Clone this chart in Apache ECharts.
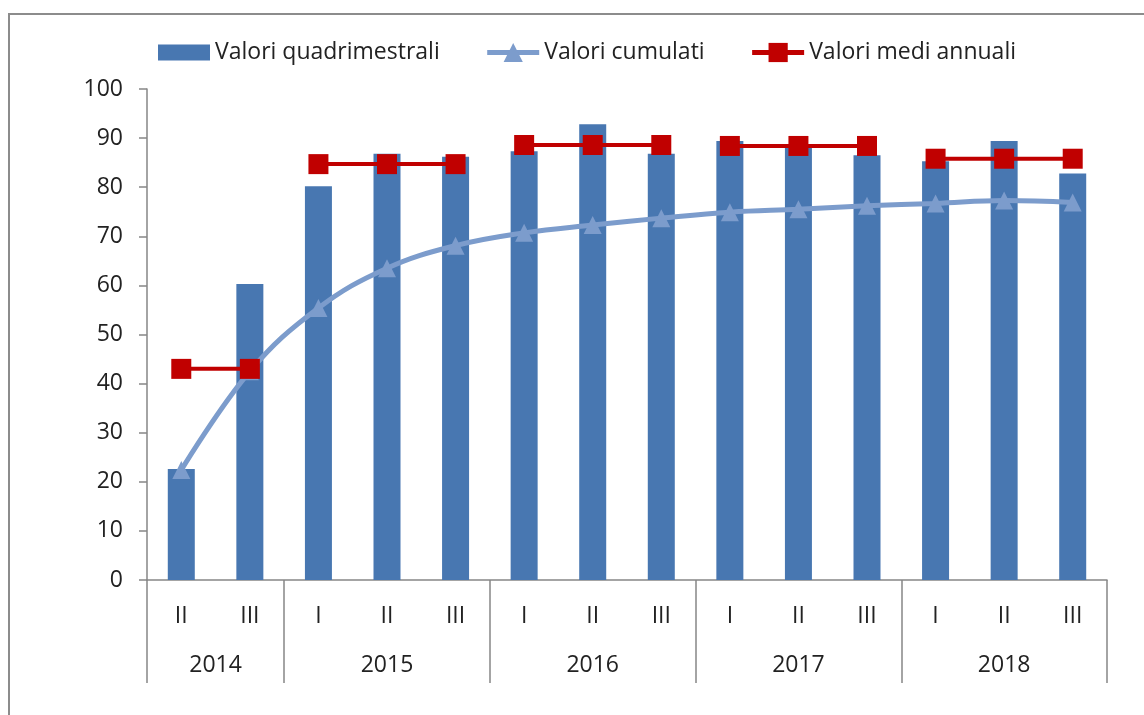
<!DOCTYPE html>
<html>
<head>
<meta charset="utf-8">
<script src="https://cdn.jsdelivr.net/npm/echarts@6/dist/echarts.min.js"></script>
<style>
    html, body { margin: 0; padding: 0; background: #fff; overflow: hidden; }
    #main { position: absolute; left: 0; top: 0; width: 1144px; height: 715px; }
    #frame { position: absolute; left: 8px; top: 13px; width: 1200px; height: 800px;
             border-left: 2px solid #8c8c8c; border-top: 2px solid #8c8c8c; pointer-events: none; }
</style>
</head>
<body>
<div id="main"></div>
<div id="frame"></div>
<script>
// dati
var quarters = ['II','III','I','II','III','I','II','III','I','II','III','I','II','III'];
var years = ['2014','2015','2016','2017','2018'];
var yearSpans = [2, 3, 3, 3, 3];
var quadValues = [22.6, 60.3, 80.2, 86.8, 86.2, 87.3, 92.8, 86.8, 89.4, 88.6, 86.5, 85.3, 89.4, 82.8];
var cumValues = [22.4, 42.5, 55.4, 63.5, 68.1, 70.7, 72.3, 73.7, 74.9, 75.5, 76.2, 76.7, 77.3, 76.9];
var annualAvg = [43.0, 84.7, 88.6, 88.4, 85.8];

var FONT = 'Open Sans';
var gray = '#868686';
var FS = 23;

// asse degli anni: 29 posizioni a mezzo passo (boundaryGap false)
var yearSlots = [];
for (var s = 0; s <= quarters.length * 2; s++) yearSlots.push('');
var yearTicks = {0: true};
var pos = 0;
for (var i = 0; i < years.length; i++) {
    yearSlots[pos + yearSpans[i]] = years[i]; // centro del gruppo
    pos += yearSpans[i] * 2;
    yearTicks[pos] = true;
}

var series = [{
    name: 'Valori quadrimestrali',
    type: 'bar',
    barWidth: 27,
    itemStyle: { color: '#4877B1' },
    data: quadValues,
    z: 2
}, {
    name: 'Valori cumulati',
    type: 'line',
    smooth: 0.4,
    symbol: 'triangle',
    symbolSize: 18,
    lineStyle: { color: '#7C9CCC', width: 5 },
    itemStyle: { color: '#7C9CCC' },
    data: cumValues,
    z: 3
}];
// valori medi: un segmento per anno
var start = 0;
for (var k = 0; k < years.length; k++) {
    var d = [];
    for (var j = 0; j < quarters.length; j++) {
        d.push(j >= start && j < start + yearSpans[k] ? annualAvg[k] : null);
    }
    start += yearSpans[k];
    series.push({
        name: 'Valori medi annuali',
        type: 'line',
        symbol: 'rect',
        symbolSize: 20,
        lineStyle: { color: '#C00000', width: 4 },
        itemStyle: { color: '#C00000' },
        data: d,
        z: 4
    });
}

var chart = echarts.init(document.getElementById('main'));
chart.setOption({
    animation: false,
    textStyle: { fontFamily: FONT },
    legend: {
        top: 36,
        left: 153,
        itemWidth: 52,
        itemHeight: 24,
        itemGap: 45,
        lineStyle: { width: 5 },
        textStyle: { fontFamily: FONT, fontSize: FS, color: '#222' },
        data: [
            { name: 'Valori quadrimestrali', icon: 'path://M0,0H52V16H0Z' },
            'Valori cumulati',
            'Valori medi annuali'
        ]
    },
    grid: { left: 147, right: 37, top: 89, bottom: 135 },
    xAxis: [{
        type: 'category',
        data: quarters,
        axisLine: { lineStyle: { color: gray, width: 1.5 } },
        axisTick: { length: 52, lineStyle: { color: gray, width: 1.5 } },
        axisLabel: { margin: 25, fontSize: FS, color: '#222', fontFamily: FONT }
    }, {
        type: 'category',
        position: 'bottom',
        boundaryGap: false,
        data: yearSlots,
        axisLine: { show: false },
        axisTick: {
            length: 103,
            interval: function (idx) { return !!yearTicks[idx]; },
            lineStyle: { color: gray, width: 1.5 }
        },
        axisLabel: {
            margin: 74,
            fontSize: FS,
            color: '#222',
            fontFamily: FONT,
            interval: function (idx, val) { return val !== ''; }
        }
    }],
    yAxis: {
        type: 'value',
        min: 0,
        max: 100,
        interval: 10,
        splitLine: { show: false },
        axisLine: { show: true, lineStyle: { color: gray, width: 1.5 } },
        axisTick: { show: true, length: 8, lineStyle: { color: gray, width: 1.5 } },
        axisLabel: { margin: 24, fontSize: FS, color: '#222', fontFamily: FONT }
    },
    series: series
});
</script>
</body>
</html>
